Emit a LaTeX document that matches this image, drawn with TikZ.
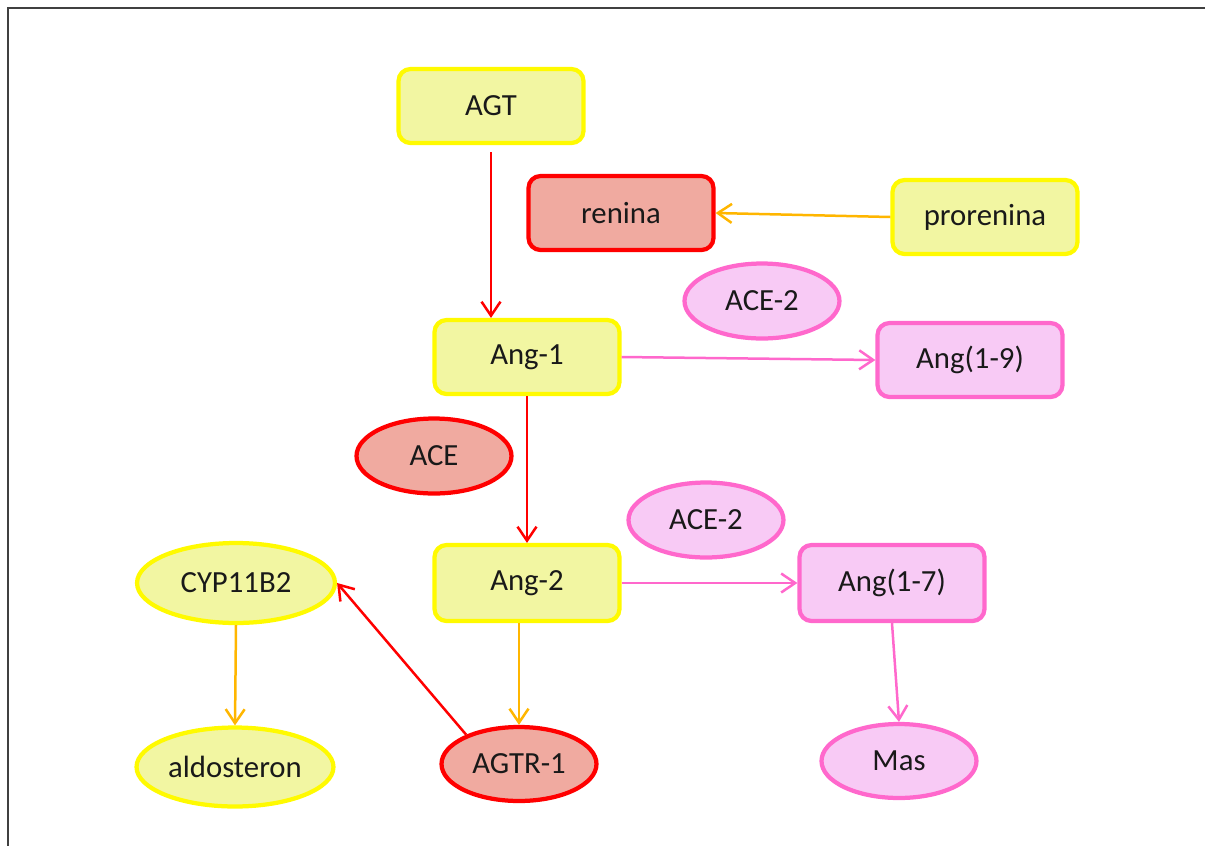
\documentclass[tikz,border=0pt]{standalone}
\usepackage{fontspec}
\setmainfont{Carlito}
\usetikzlibrary{shapes.geometric,arrows.meta}

\definecolor{yfill}{RGB}{242,246,162}
\definecolor{yline}{RGB}{255,250,0}
\definecolor{rfill}{RGB}{240,170,160}
\definecolor{rline}{RGB}{255,0,0}
\definecolor{pfill}{RGB}{248,202,245}
\definecolor{pline}{RGB}{255,104,204}
\definecolor{oline}{RGB}{255,182,0}

\tikzset{
	base/.style={font=\fontsize{17.5}{21}\selectfont, text=black!90, line width=0.085cm, inner sep=0pt},
	box/.style={base, rectangle, rounded corners=0.24cm, minimum width=3.7cm, minimum height=1.48cm},
	ell/.style={base, ellipse, minimum width=3.1cm, minimum height=1.5cm},
	ybox/.style={box, draw=yline, fill=yfill},
	rbox/.style={box, draw=rline, fill=rfill},
	pbox/.style={box, draw=pline, fill=pfill},
	yell/.style={ell, draw=yline, fill=yfill},
	rell/.style={ell, draw=rline, fill=rfill},
	pell/.style={ell, draw=pline, fill=pfill},
	conn/.style={line width=0.05cm, -{Straight Barb[length=0.28cm,width=0.38cm,line width=0.05cm]}},
	redarr/.style={conn, rline},
	orarr/.style={conn, oline},
	pkarr/.style={conn, pline}
}

\begin{document}
\begin{tikzpicture}[x=0.02cm, y=-0.02cm]
				\useasboundingbox (0,0) rectangle (1205,846);
				\draw[black!75, line width=0.04cm] (8,846) -- (8,8) -- (1205,8);
				
				\node[ybox] (agt) at (491,106) {AGT};
				\node[rbox] (renina) at (621,213) {renina};
				\node[ybox] (prorenina) at (985,217) {prorenina};
				\node[pell] (ace2a) at (762,301) {ACE-2};
				\node[ybox] (ang1) at (527,357) {Ang-1};
				\node[pbox] (ang19) at (970,360) {Ang(1-9)};
				\node[rell] (ace) at (434,456) {ACE};
				
				\node[pell] (ace2b) at (706,520) {ACE-2};
				\node[yell, minimum width=3.96cm, minimum height=1.6cm] (cyp) at (236,583) {CYP11B2};
				\node[ybox, minimum height=1.52cm] (ang2) at (527,583) {Ang-2};
				\node[pbox, minimum height=1.52cm] (ang17) at (892,583) {Ang(1-7)};
				\node[yell, minimum width=3.94cm, minimum height=1.58cm] (aldo) at (235,767) {aldosteron};
				\node[rell, minimum height=1.48cm] (agtr) at (519,764) {AGTR-1};
				\node[pell, minimum height=1.48cm] (mas) at (899,761) {Mas};
				
				\draw[redarr, shorten <=0.14cm] (agt.south) -- (agt.south |- ang1.north);
				\draw[orarr] (prorenina.west) -- (renina.east);
				\draw[pkarr] (ang1.east) -- (ang19.west);
				\draw[redarr] (ang1.south) -- (ang2.north);
				\draw[pkarr] (ang2.east) -- (ang17.west);
				\draw[orarr] (ang2.south -| agtr.north) -- (agtr.north);
				\draw[redarr] (agtr.151) -- (cyp.east);
				\draw[orarr] (cyp.south) -- (aldo.north);
				\draw[pkarr] (ang17.south) -- (mas.north);
			\end{tikzpicture}
\end{document}
